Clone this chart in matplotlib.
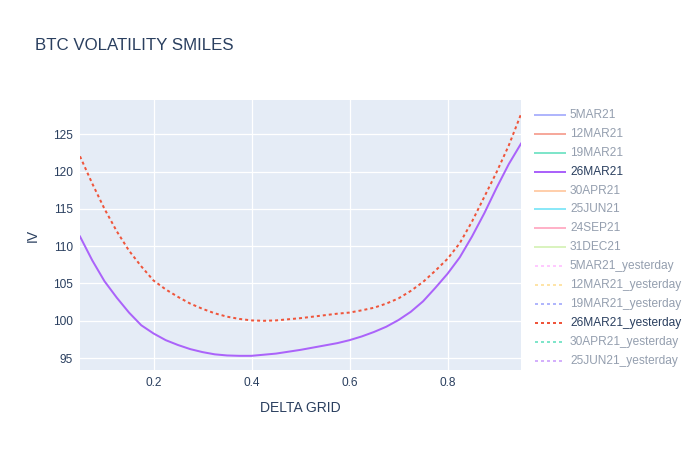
import matplotlib
matplotlib.use("Agg")
import matplotlib.pyplot as plt
from matplotlib.lines import Line2D

plt.rcParams['font.family'] = ['Liberation Sans', 'DejaVu Sans']

# delta grid and smiles
delta = [0.050, 0.075, 0.100, 0.125, 0.150, 0.175, 0.200, 0.225, 0.250, 0.275,
         0.300, 0.325, 0.350, 0.375, 0.400, 0.425, 0.450, 0.475, 0.500, 0.525,
         0.550, 0.575, 0.600, 0.625, 0.650, 0.675, 0.700, 0.725, 0.750, 0.775,
         0.800, 0.825, 0.850, 0.875, 0.900, 0.925, 0.950]
iv_26mar21 = [111.3, 108.1, 105.3, 103.1, 101.1, 99.4, 98.3, 97.4, 96.75, 96.2,
              95.8, 95.5, 95.35, 95.3, 95.3, 95.45, 95.6, 95.85, 96.1, 96.4,
              96.7, 97.0, 97.4, 97.9, 98.5, 99.2, 100.1, 101.2, 102.6, 104.4,
              106.3, 108.5, 111.3, 114.4, 117.8, 121.0, 123.75]
iv_26mar21_yesterday = [122.05, 118.4, 115.0, 112.0, 109.4, 107.3, 105.4, 104.2, 103.2, 102.3,
                        101.6, 101.0, 100.55, 100.25, 100.05, 100.0, 100.05, 100.2, 100.35, 100.55,
                        100.75, 100.95, 101.1, 101.4, 101.75, 102.3, 103.0, 104.0, 105.2, 106.7,
                        108.3, 110.4, 113.3, 116.6, 119.9, 123.5, 127.7]

legend_names = ["5MAR21", "12MAR21", "19MAR21", "26MAR21", "30APR21", "25JUN21",
                "24SEP21", "31DEC21", "5MAR21_yesterday", "12MAR21_yesterday",
                "19MAR21_yesterday", "26MAR21_yesterday", "30APR21_yesterday",
                "25JUN21_yesterday"]
visible = ["26MAR21", "26MAR21_yesterday"]

colors = ["#636efa", "#EF553B", "#00cc96", "#ab63fa", "#FFA15A", "#19d3f3",
          "#FF6692", "#B6E880", "#FF97FF", "#FECB52", "#636efa", "#EF553B",
          "#00cc96", "#ab63fa"]
txt = "#2a3f5f"
dot = (0, (1.5, 1.5))

W, H = 700, 450
fig = plt.figure(figsize=(W / 100, H / 100), dpi=100)
ax = fig.add_axes([80 / W, 1 - 370 / H, (521 - 80) / W, (370 - 100) / H])
ax.set_facecolor("#E5ECF6")

ax.plot(delta, iv_26mar21, color=colors[3], lw=1.44)
ax.plot(delta, iv_26mar21_yesterday, color=colors[11], lw=1.44, ls=dot)

ax.set_xlim(0.05, 0.95)
ax.set_ylim(93.4, 129.6)
ax.set_xticks([0.2, 0.4, 0.6, 0.8])
ax.set_yticks([95, 100, 105, 110, 115, 120, 125])
ax.grid(True, color="white", lw=0.9)
ax.set_axisbelow(True)
for s in ax.spines.values():
    s.set_visible(False)
ax.tick_params(length=0, labelsize=8.6, labelcolor=txt, pad=5)

ax.set_xlabel("DELTA GRID", fontsize=10, color=txt, labelpad=9)
ax.set_ylabel("IV", fontsize=10, color=txt, labelpad=10)
fig.text(35 / W, 1 - 45 / H, "BTC VOLATILITY SMILES", fontsize=12.2,
         color=txt, va="center", ha="left")

# legend, drawn by hand to match the spacing
y0, step = 115, 18.9
for i, name in enumerate(legend_names):
    y = 1 - (y0 + i * step) / H
    shown = name in visible
    a = 1.0 if shown else 0.5
    ls = dot if "yesterday" in name else "-"
    fig.add_artist(Line2D([535 / W, 565 / W], [y, y], transform=fig.transFigure,
                          color=colors[i], lw=1.44, ls=ls, alpha=a))
    fig.text(570 / W, y, name, fontsize=8.6, color=txt, alpha=a,
             va="center", ha="left")

fig.savefig("out.png", dpi=100)
